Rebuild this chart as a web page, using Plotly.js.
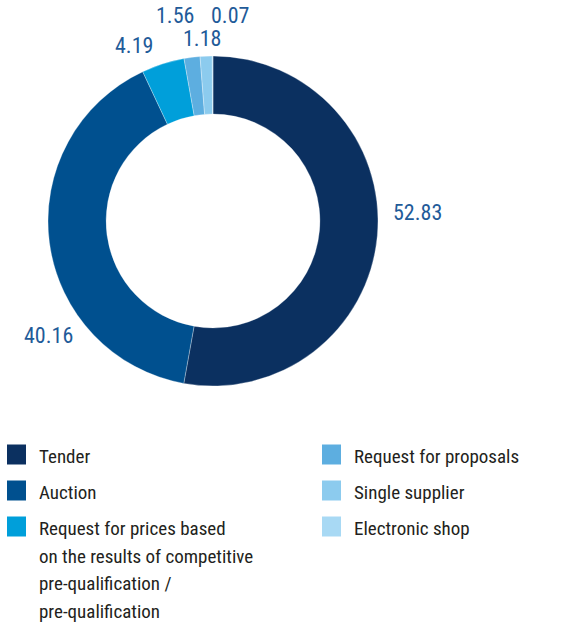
<!DOCTYPE html>
<html>
<head>
<meta charset="utf-8">
<script src="https://cdn.plot.ly/plotly-3.0.1.min.js"></script>
<style>
html,body{margin:0;padding:0;background:#fff;}
#chart{width:573px;height:624px;}
</style>
</head>
<body>
<div id="chart"></div>
<script>
// ---- data ----
var categories = [
  "Tender",
  "Auction",
  "Request for prices based<br>on the results of competitive<br>pre-qualification /<br>pre-qualification",
  "Request for proposals",
  "Single supplier",
  "Electronic shop"
];
var shares = [52.83, 40.16, 4.19, 1.56, 1.18, 0.07];
var valueLabels = ["52.83", "40.16", "4.19", "1.56", "1.18", "0.07"];

// ---- styles / positions ----
var colors = ["#0b3060", "#00508f", "#009fda", "#5daee0", "#8ccbee", "#a8d9f4"];
var W = 573, H = 624;
var FONT = "'Roboto Condensed', 'Roboto', sans-serif";
var labelColor = "#1f5b99";
var textColor = "#231f20";
// label centres in pixels
var labelPx = [[417, 212], [48, 335], [134, 46], [175, 15], [202, 38], [230, 15]];
// legend layout in pixels
var legendCols = [{sq: 7, tx: 37}, {sq: 322, tx: 352}];
var legendRows = [454.5, 490.5, 526.5];
var lineGap = 27.7;
var sqW = 19, sqH = 20;

function px(x) { return x / W; }
function py(y) { return 1 - y / H; }

var cx = 213, cy = 221, R = 165;

var trace = {
  type: "pie",
  labels: categories,
  values: shares,
  sort: false,
  direction: "clockwise",
  rotation: 0,
  hole: 0.648,
  textinfo: "none",
  hoverinfo: "label+value",
  marker: {colors: colors, line: {color: "#ffffff", width: 0.3}},
  domain: {x: [px(cx - R), px(cx + R)], y: [py(cy + R), py(cy - R)]},
  showlegend: false
};

var annotations = [];
var shapes = [];

valueLabels.forEach(function (t, i) {
  annotations.push({
    xref: "paper", yref: "paper",
    x: px(labelPx[i][0]), y: py(labelPx[i][1]),
    xanchor: "center", yanchor: "middle",
    text: t, showarrow: false,
    font: {family: FONT, size: 22, color: labelColor}
  });
});

categories.forEach(function (c, i) {
  var col = legendCols[Math.floor(i / 3)];
  var rowY = legendRows[i % 3];
  shapes.push({
    type: "rect", xref: "paper", yref: "paper",
    x0: px(col.sq), x1: px(col.sq + sqW),
    y0: py(rowY - sqH / 2), y1: py(rowY + sqH / 2),
    fillcolor: colors[i], line: {width: 0}
  });
  c.split("<br>").forEach(function (line, k) {
    annotations.push({
      xref: "paper", yref: "paper",
      x: px(col.tx), y: py(rowY + k * lineGap + 2),
      xanchor: "left", yanchor: "middle",
      text: line, showarrow: false,
      font: {family: FONT, size: 19, color: textColor}
    });
  });
});

var layout = {
  width: W, height: H,
  margin: {l: 0, r: 0, t: 0, b: 0},
  paper_bgcolor: "#ffffff",
  plot_bgcolor: "#ffffff",
  showlegend: false,
  annotations: annotations,
  shapes: shapes
};

Plotly.newPlot("chart", [trace], layout, {displayModeBar: false, staticPlot: true});
</script>
</body>
</html>
